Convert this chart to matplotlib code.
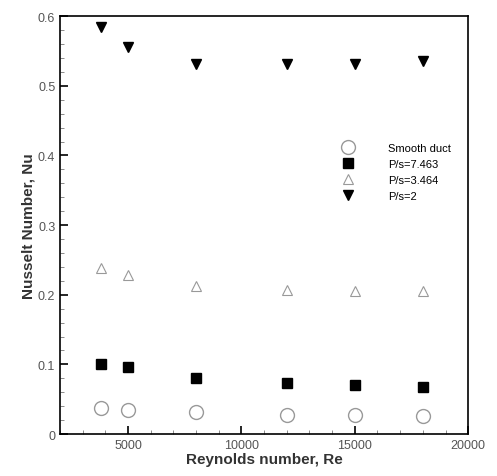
import matplotlib
matplotlib.use("Agg")
import matplotlib.pyplot as plt
from matplotlib.ticker import MultipleLocator

plt.rcParams['font.family'] = ['Liberation Sans', 'DejaVu Sans']

re = [3800, 5000, 8000, 12000, 15000, 18000]
nu_smooth = [0.037, 0.035, 0.031, 0.028, 0.027, 0.026]
nu_7463 = [0.100, 0.096, 0.080, 0.073, 0.070, 0.068]
nu_3464 = [0.238, 0.228, 0.213, 0.207, 0.206, 0.206]
nu_2 = [0.585, 0.556, 0.532, 0.532, 0.531, 0.536]
labels = ["Smooth duct", "P/s=7.463", "P/s=3.464", "P/s=2"]

fig = plt.figure(figsize=(4.97, 4.77), dpi=100)
ax = fig.add_axes([0.121, 0.088, 0.821, 0.876])

ax.plot(re, nu_smooth, "o", ms=10, mfc="none", mec="#999999", mew=1.0, label=labels[0])
ax.plot(re, nu_7463, "s", ms=7, color="black", label=labels[1])
ax.plot(re, nu_3464, "^", ms=7, mfc="none", mec="#999999", mew=0.8, label=labels[2])
ax.plot(re, nu_2, "v", ms=7, color="black", label=labels[3])

ax.set_xlim(2000, 20000)
ax.set_ylim(0, 0.6)
ax.xaxis.set_major_locator(MultipleLocator(5000))
ax.xaxis.set_minor_locator(MultipleLocator(1000))
ax.yaxis.set_major_locator(MultipleLocator(0.1))
ax.yaxis.set_minor_locator(MultipleLocator(0.02))
ax.yaxis.set_major_formatter(plt.FuncFormatter(lambda v, p: "0" if v == 0 else "%g" % v))
ax.tick_params(which="both", direction="in", top=False, right=False, labelsize=9, labelcolor="#555555")
ax.tick_params(which="major", length=6, width=1.2)
ax.tick_params(which="minor", length=3, width=0.6, color="#777777")
for s in ax.spines.values():
    s.set_linewidth(1.2)

ax.set_xlabel("Reynolds number, Re", fontsize=11, fontweight="bold", color="#333333", labelpad=1)
ax.set_ylabel("Nusselt Number, Nu", fontsize=11, fontweight="bold", color="#333333", labelpad=2)

ax.legend(loc="upper left", bbox_to_anchor=(0.66, 0.715), frameon=False, fontsize=8,
          handletextpad=2.6, labelspacing=0.55, borderpad=0.2)

fig.savefig("out.png", dpi=100)
